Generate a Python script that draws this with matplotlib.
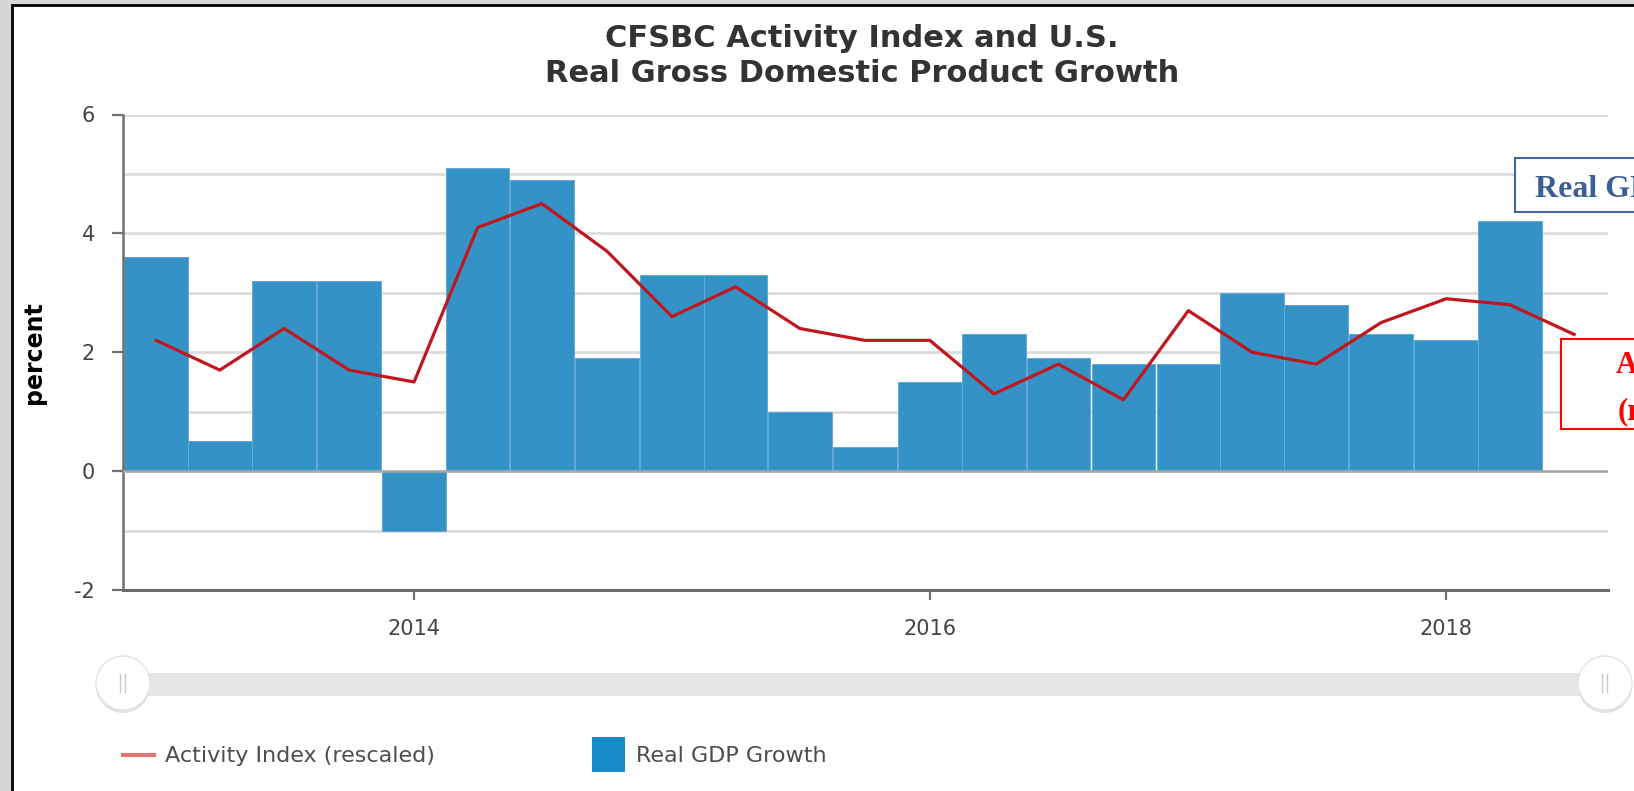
import pandas as pd
import numpy as np
import matplotlib
matplotlib.use('Agg')
import matplotlib.pyplot as plt
import matplotlib.dates as mdates
from matplotlib.patches import Rectangle, Circle

plt.rcParams['font.family'] = ['DejaVu Sans']
plt.rcParams['axes.unicode_minus'] = False

# quarterly real GDP growth (bars) and activity index (line)
gdp_quarters = ['2013-01-01', '2013-04-01', '2013-07-01', '2013-10-01',
                '2014-01-01', '2014-04-01', '2014-07-01', '2014-10-01',
                '2015-01-01', '2015-04-01', '2015-07-01', '2015-10-01',
                '2016-01-01', '2016-04-01', '2016-07-01', '2016-10-01',
                '2017-01-01', '2017-04-01', '2017-07-01', '2017-10-01',
                '2018-01-01', '2018-04-01']
gdp_growth = [3.6, 0.5, 3.2, 3.2,
              -1.0, 5.1, 4.9, 1.9,
              3.3, 3.3, 1.0, 0.4,
              1.5, 2.3, 1.9, 1.8,
              1.8, 3.0, 2.8, 2.3,
              2.2, 4.2]

index_quarters = gdp_quarters + ['2018-07-01']
activity_index = [2.2, 1.7, 2.4, 1.7,
                  1.5, 4.1, 4.5, 3.7,
                  2.6, 3.1, 2.4, 2.2,
                  2.2, 1.3, 1.8, 1.2,
                  2.7, 2.0, 1.8, 2.5,
                  2.9, 2.8, 2.3]

year_ticks = ['2014-01-01', '2016-01-01', '2018-01-01']
year_labels = ['2014', '2016', '2018']

W, H = 1634, 791
fig = plt.figure(figsize=(W / 100, H / 100), dpi=100, facecolor='#D6D6D6')

# background panel / slider / legend are drawn in pixel coordinates
bg = fig.add_axes([0, 0, 1, 1], zorder=0)
bg.set_xlim(0, W)
bg.set_ylim(H, 0)
bg.axis('off')
bg.add_patch(Rectangle((12, 5), W, H, facecolor='white', edgecolor='black', lw=2))

# main chart
ax = fig.add_axes([123 / W, (H - 590) / H, (1608 - 123) / W, (590 - 114.5) / H], zorder=1)
ax.patch.set_alpha(0)

x_bar = mdates.date2num(pd.to_datetime(gdp_quarters))
x_line = mdates.date2num(pd.to_datetime(index_quarters))

ax.bar(x_bar, gdp_growth, width=90, color='#3592C7', edgecolor='#62A9D4', linewidth=0.7, zorder=2)
ax.axhline(0, color='#A8A8A8', lw=1.8, zorder=3)
ax.plot(x_line, activity_index, color='#C0161D', lw=2.3, zorder=4)

ax.set_xlim(mdates.date2num(pd.Timestamp('2012-11-15')), mdates.date2num(pd.Timestamp('2018-08-18')))
ax.set_ylim(-2, 6)
ax.set_yticks([-2, 0, 2, 4, 6])
ax.set_yticks(np.arange(-2, 7, 1), minor=True)
ax.yaxis.grid(True, which='both', color='#DCDCDC', lw=2.0, zorder=0)
ax.set_axisbelow(True)
ax.set_xticks(mdates.date2num(pd.to_datetime(year_ticks)))
ax.set_xticklabels(year_labels)

ax.tick_params(axis='y', which='major', length=8, width=1.6, color='#707070', pad=12,
               labelsize=15, labelcolor='#444444')
ax.tick_params(axis='y', which='minor', length=0)
ax.tick_params(axis='x', length=7, width=1.6, color='#707070', pad=14,
               labelsize=15, labelcolor='#444444')
for s in ['top', 'right']:
    ax.spines[s].set_visible(False)
ax.spines['left'].set_color('#707070')
ax.spines['left'].set_linewidth(1.8)
ax.spines['bottom'].set_color('#6A6A6A')
ax.spines['bottom'].set_linewidth(2.2)
ax.set_ylabel('percent', fontsize=17, fontweight='bold')
ax.yaxis.set_label_coords(-0.052, 0.5)

# title
bg.text(862, 47, 'CFSBC Activity Index and U.S.', ha='center', va='baseline',
        fontsize=22, fontweight='bold', color='#333333')
bg.text(862, 82, 'Real Gross Domestic Product Growth', ha='center', va='baseline',
        fontsize=22, fontweight='bold', color='#333333')

# range slider
bg.add_patch(Rectangle((115, 673), 1605 - 115, 23, facecolor='#E6E6E6', edgecolor='none'))
for hx in [123, 1605]:
    bg.add_patch(Circle((hx, 686), 27, facecolor='#C8C8C8', edgecolor='none', alpha=0.5))
    bg.add_patch(Circle((hx, 683), 27, facecolor='white', edgecolor='#E2E2E2', lw=1))
    bg.plot([hx - 2.5, hx - 2.5], [674, 692], color='#C8C8C8', lw=1)
    bg.plot([hx + 2.5, hx + 2.5], [674, 692], color='#C8C8C8', lw=1)

# legend
bg.plot([123, 154], [755, 755], color='#E07474', lw=3)
bg.text(165, 756, 'Activity Index (rescaled)', va='center', fontsize=16, color='#4D4D4D')
bg.add_patch(Rectangle((592, 737), 33, 35, facecolor='#168AC6', edgecolor='none'))
bg.text(636, 756, 'Real GDP Growth', va='center', fontsize=16, color='#4D4D4D')

# overlaid annotation boxes
fg = fig.add_axes([0, 0, 1, 1], zorder=5)
fg.set_xlim(0, W)
fg.set_ylim(H, 0)
fg.axis('off')
fg.patch.set_alpha(0)
fg.add_patch(Rectangle((1515, 158), 300, 54, facecolor='white', edgecolor='#41679C', lw=1.5))
fg.text(1535, 197, 'Real GDP Growth', va='baseline', fontsize=23, fontweight='bold',
        color='#3A5F94', family='Liberation Serif')
fg.add_patch(Rectangle((1561, 339), 300, 90, facecolor='white', edgecolor='#FF0000', lw=1.5))
fg.text(1616, 373, 'Activity Index', va='baseline', fontsize=22, fontweight='bold',
        color='#FF0000', family='Liberation Serif')
fg.text(1618, 419, '(rescaled)', va='baseline', fontsize=22, fontweight='bold',
        color='#FF0000', family='Liberation Serif')

fig.savefig('out.png', dpi=100, facecolor=fig.get_facecolor())
